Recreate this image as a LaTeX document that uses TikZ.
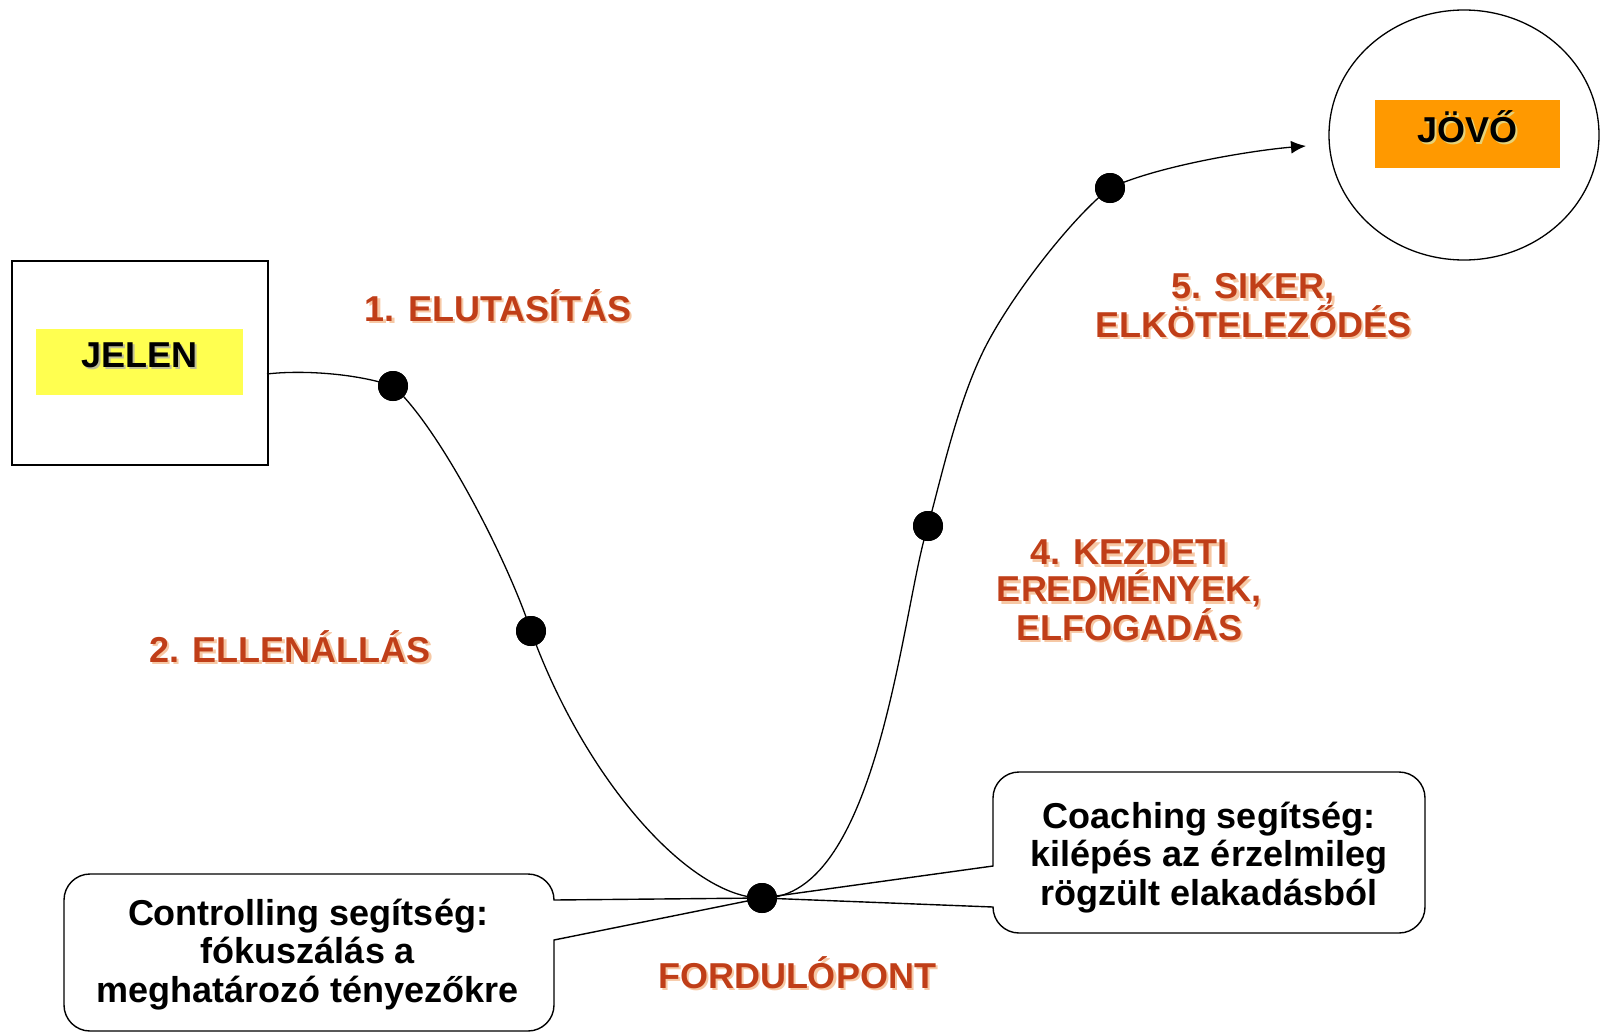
\documentclass[tikz,border=0pt]{standalone}
\usepackage{fontspec}
\setmainfont{Liberation Sans}
\usetikzlibrary{arrows.meta,shapes.geometric}
\definecolor{lblc}{RGB}{192,62,24}
\definecolor{lblsh}{RGB}{246,200,165}
\definecolor{jelenY}{RGB}{255,255,80}
\definecolor{jovoO}{RGB}{255,153,0}
\definecolor{txtsh}{RGB}{190,190,150}
\definecolor{jovosh}{RGB}{230,210,120}
\begin{document}
\begin{tikzpicture}[x=1pt,y=-1pt,
  lbl/.style={font=\fontsize{36}{37}\selectfont\bfseries, text=lblc, align=center, inner sep=0pt, anchor=base},
  lblshadow/.style={lbl, text=lblsh},
  bigtxt/.style={font=\fontsize{36}{37}\selectfont\bfseries, text=black, inner sep=0pt, anchor=base},
  bigshadow/.style={bigtxt, text=txtsh},
  dotnode/.style={circle, fill=black, minimum size=30pt, inner sep=0pt},
  call/.style={draw=black, line width=1.4pt, fill=white, line join=miter},
  calltext/.style={font=\fontsize{36}{38.5}\selectfont\bfseries, align=center, inner sep=0pt, anchor=base},
  curve/.style={line width=1.3pt},
]
\useasboundingbox (0,0) rectangle (1602,1033);

% JELEN box
\node (jelenbox) [draw, line width=1.4pt, minimum width=256pt, minimum height=204pt, inner sep=0pt] at (140,363) {};
\node (jelenfill) [fill=jelenY, minimum width=207pt, minimum height=66pt, inner sep=0pt] at (139.5,362) {};
\node (jelensh) [bigshadow] at (141.5,369) {JELEN};
\node (jelentxt) [bigtxt] at (139.5,367) {JELEN};

% JÖVŐ circle and box
\node (jovocirc) [draw, line width=1.3pt, ellipse, minimum width=270pt, minimum height=250pt, inner sep=0pt] at (1464,135) {};
\node (jovofill) [fill=jovoO, minimum width=185pt, minimum height=68pt, inner sep=0pt] at (1467.5,134) {};
\node (jovoshd) [bigshadow, text=jovosh] at (1469.5,144) {JÖVŐ};
\node (jovotxt) [bigtxt] at (1467.5,142) {JÖVŐ};

% dots (positions) and helper point of the curve
\coordinate (cstart) at (267,374);
\coordinate (cend) at (1306,146);
\coordinate (m2) at (989,340);
\node (d1) [dotnode] at (393,386) {};
\node (d2) [dotnode] at (531,631) {};
\node (d0) [dotnode] at (762,898) {};
\node (d4) [dotnode] at (928,526) {};
\node (d5) [dotnode] at (1110,188) {};

% callouts
\draw[call] (d0.center) -- (554,940) -- (554,1005)
  arc[start angle=0, end angle=-90, radius=26pt] -- (90,1031)
  arc[start angle=-90, end angle=-180, radius=26pt] -- (64,900)
  arc[start angle=180, end angle=90, radius=26pt] -- (528,874)
  arc[start angle=90, end angle=0, radius=26pt] -- cycle;
\draw[call] (d0.center) -- (993,907)
  arc[start angle=180, end angle=270, radius=26pt] -- (1399,933)
  arc[start angle=270, end angle=360, radius=26pt] -- (1425,798)
  arc[start angle=0, end angle=90, radius=26pt] -- (1019,772)
  arc[start angle=90, end angle=180, radius=26pt] -- (993,866) -- cycle;

\node (ctrltxt) [calltext] at (308,1002) {Controlling segítség:\\fókuszálás a\\meghatározó tényezőkre};
\node (coachtxt) [calltext] at (1209,905) {Coaching segítség:\\kilépés az érzelmileg\\rögzült elakadásból};

% the curve
\draw[curve, -{Latex[length=15pt,width=13pt]}]
  (cstart) .. controls (300,370) and (355,373) .. (d1.center)
  .. controls (438,426) and (506,556) .. (d2.center)
  .. controls (585,780) and (690,898) .. (d0.center)
  .. controls (880,900) and (903,600) .. (d4.center)
  .. controls (943.6,467.8) and (960.2,392.8) .. (m2)
  .. controls (1017.8,287.2) and (1074.5,215.5) .. (d5.center)
  .. controls (1160,165) and (1256,150) .. (cend);

% redraw dots on top
\node (d1t) [dotnode] at (d1) {};
\node (d2t) [dotnode] at (d2) {};
\node (d0t) [dotnode] at (d0) {};
\node (d4t) [dotnode] at (d4) {};
\node (d5t) [dotnode] at (d5) {};

% stage labels
\node (l1s) [lblshadow] at (500.5,323.5) {1. ELUTASÍTÁS};
\node (l1) [lbl] at (498,321) {1. ELUTASÍTÁS};
\node (l2s) [lblshadow] at (292.5,664.5) {2. ELLENÁLLÁS};
\node (l2) [lbl] at (290,662) {2. ELLENÁLLÁS};
\node (l4s) [lblshadow] at (1131.5,642.5) {4. KEZDETI\\EREDMÉNYEK,\\ELFOGADÁS};
\node (l4) [lbl] at (1129,640) {4. KEZDETI\\EREDMÉNYEK,\\ELFOGADÁS};
\node (l5s) [lblshadow] at (1255.5,339.5) {5. SIKER,\\ELKÖTELEZŐDÉS};
\node (l5) [lbl] at (1253,337) {5. SIKER,\\ELKÖTELEZŐDÉS};
\node (l0s) [lblshadow] at (799.5,990.5) {FORDULÓPONT};
\node (l0) [lbl] at (797,988) {FORDULÓPONT};
\end{tikzpicture}
\end{document}
